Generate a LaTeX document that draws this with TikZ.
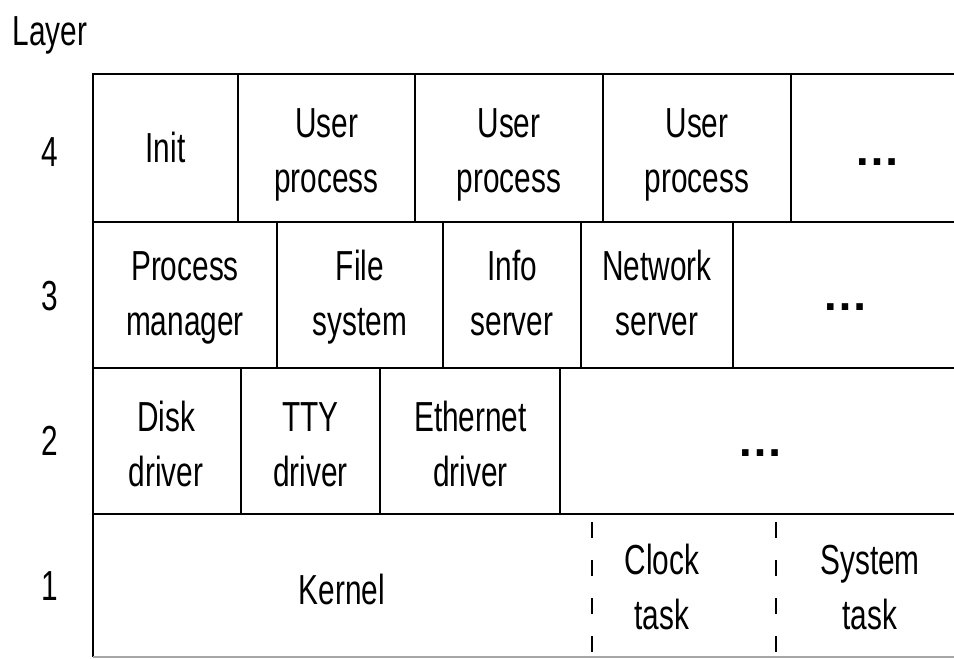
\documentclass[tikz,border=0pt]{standalone}
\usepackage{fontspec}
\setmainfont{Liberation Sans}
% condensed two-line cell text, rows spaced by the baselineskip
\newcommand\celltext[1]{\scalebox{0.71}[1]{\begin{tabular}{@{}c@{}}#1\end{tabular}}}
\newcommand\narrow[1]{\scalebox{0.71}[1]{#1}}
\tikzset{
  rule/.style={line width=2.9pt, line cap=butt, line join=miter},
  partition/.style={line width=2pt, dash pattern=on 16pt off 22pt},
  lbl/.style={inner sep=0pt, anchor=center, font=\fontsize{42}{55}\selectfont},
  num/.style={inner sep=0pt, anchor=base, font=\fontsize{42}{55}\selectfont},
  more/.style={inner sep=0pt, anchor=base, font=\fontsize{46}{55}\selectfont\bfseries},
}
\begin{document}
\begin{tikzpicture}[x=1pt, y=-1pt]
\useasboundingbox (0,0) rectangle (954,659);

% outer frame and layer boundaries
\draw[rule] (954,74) -- (93,74) -- (93,657);
\draw[rule] (93,222) -- (954,222);
\draw[rule] (93,368) -- (954,368);
\draw[rule] (93,514) -- (954,514);
\draw[line width=1.5pt, black!35] (93,657) -- (954,657);

% layer 4 dividers
\foreach \x in {238,415,603,791} \draw[rule] (\x,74) -- (\x,222);
% layer 3 dividers
\foreach \x in {277,443,581,733} \draw[rule] (\x,222) -- (\x,368);
% layer 2 dividers
\foreach \x in {241,380,560} \draw[rule] (\x,368) -- (\x,514);
% layer 1: tasks sharing the kernel address space
\draw[partition] (592,522) -- (592,657);
\draw[partition] (776,522) -- (776,657);

% heading and layer numbers
\node[num] (layer) at (50,45) {\narrow{Layer}};
\node[num] (n4) at (50,166) {\narrow{4}};
\node[num] (n3) at (50,310) {\narrow{3}};
\node[num] (n2) at (50,455) {\narrow{2}};
\node[num] (n1) at (50,600) {\narrow{1}};

% layer 4
\node[lbl] (init) at (165.5,151.5) {\celltext{Init}};
\node[lbl] (up1) at (326.5,154) {\celltext{User\\process}};
\node[lbl] (up2) at (509,154) {\celltext{User\\process}};
\node[lbl] (up3) at (697,154) {\celltext{User\\process}};
\node[more] (dots4) at (877,165) {…};

% layer 3
\node[lbl] (pm) at (185,296.5) {\celltext{Process\\manager}};
\node[lbl] (fs) at (360,296.5) {\celltext{File\\system}};
\node[lbl] (is) at (512,296.5) {\celltext{Info\\server}};
\node[lbl] (ns) at (657,296.5) {\celltext{Network\\server}};
\node[more] (dots3) at (845,310) {…};

% layer 2
\node[lbl] (dd) at (166,448) {\celltext{Disk\\driver}};
\node[lbl] (tty) at (310.5,448) {\celltext{TTY\\driver}};
\node[lbl] (eth) at (470.5,448) {\celltext{Ethernet\\driver}};
\node[more] (dots2) at (760,456) {…};

% layer 1
\node[lbl] (kernel) at (342,593.5) {\celltext{Kernel}};
\node[lbl] (clock) at (662,590.5) {\celltext{Clock\\task}};
\node[lbl] (sys) at (870,590.5) {\celltext{System\\task}};
\end{tikzpicture}
\end{document}
